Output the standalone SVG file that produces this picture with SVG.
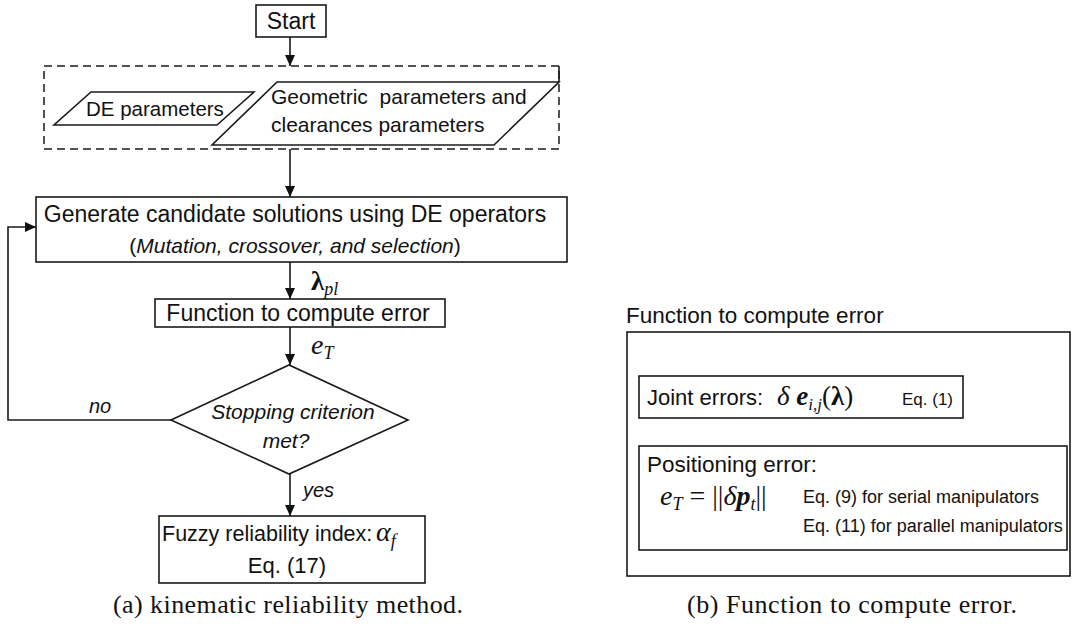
<svg xmlns="http://www.w3.org/2000/svg" width="1072" height="632" viewBox="0 0 1072 632">
<defs>
<marker id="ah" viewBox="0 0 11 10" refX="11" refY="5" markerWidth="11" markerHeight="10" markerUnits="userSpaceOnUse" orient="auto"><path d="M0,0 L11,5 L0,10 z" fill="#111"/></marker>
<style>
.box{fill:#fff;stroke:#1a1a1a;stroke-width:1.6}
.ln{fill:none;stroke:#1a1a1a;stroke-width:1.6}
.ar{fill:none;stroke:#1a1a1a;stroke-width:1.6;marker-end:url(#ah)}
.t{font-family:"Liberation Sans",Arial,sans-serif;fill:#111}
.m{font-family:"Liberation Serif","DejaVu Serif",serif;fill:#111}
.cap{font-family:"Liberation Serif","DejaVu Serif",serif;fill:#111;font-size:26px}
.i{font-style:italic}
.b{font-weight:bold}
</style>
</defs>
<rect width="1072" height="632" fill="#fff"/>

<g id="connectors">
<path class="ar" d="M290,37 V66"/>
<path class="ar" d="M290,149 V197"/>
<path class="ar" d="M290,262 V299"/>
<path class="ar" d="M290,327 V365"/>
<path class="ar" d="M290,474 V516"/>
<path class="ar" d="M171,420 H8 V227 H36"/>
<path class="ar" d="M825,332 V376"/>
<path class="ar" d="M825,418 V446"/>
<path class="ar" d="M825,550 V576"/>
<text class="t i" x="89" y="413" font-size="20">no</text>
<text class="t i" x="303" y="497" font-size="20">yes</text>
<text class="m" x="311" y="290" font-size="27"><tspan class="b">λ</tspan><tspan class="i" font-size="18" dy="5">pl</tspan></text>
<text class="m i" x="311" y="354" font-size="28">e<tspan font-size="18" dy="5">T</tspan></text>
</g>

<g id="start">
<rect class="box" x="256" y="5" width="70" height="32"/>
<text class="t" x="291" y="29" font-size="23" text-anchor="middle">Start</text>
</g>

<g id="inputs">
<rect x="44" y="66" width="515" height="83" fill="none" stroke="#1a1a1a" stroke-width="1.5" stroke-dasharray="8 5"/>
<path class="ln" d="M559,66 V82"/>
<g id="de-params">
<polygon class="box" points="91,92 254,92 217,125 54,125"/>
<text class="t" x="86" y="116" font-size="20.5">DE parameters</text>
</g>
<g id="geo-params">
<polygon class="box" points="277,82 559,82 494,145 212,145"/>
<text class="t" x="271" y="104" font-size="21" xml:space="preserve">Geometric  parameters and</text>
<text class="t" x="271" y="132" font-size="21">clearances parameters</text>
</g>
</g>

<g id="generate">
<rect class="box" x="36" y="197" width="531" height="65"/>
<text class="t" x="295" y="222" font-size="23" text-anchor="middle">Generate candidate solutions using DE operators</text>
<text class="t" x="295" y="253" font-size="21" text-anchor="middle">(<tspan class="i">Mutation, crossover, and selection</tspan>)</text>
</g>

<g id="function">
<rect class="box" x="155" y="299" width="290" height="28"/>
<text class="t" x="298" y="321" font-size="23" text-anchor="middle">Function to compute error</text>
</g>

<g id="decision">
<polygon class="box" points="171,420 289,365 408,420 289,474"/>
<text class="t i" x="293" y="419" font-size="21" text-anchor="middle">Stopping criterion</text>
<text class="t i" x="286" y="448" font-size="21" text-anchor="middle">met?</text>
</g>

<g id="fuzzy">
<rect class="box" x="159" y="516" width="266" height="67"/>
<text class="t" x="162" y="541" font-size="21.5">Fuzzy reliability index:</text>
<text class="m i" x="376" y="541" font-size="28">α<tspan font-size="18" dy="6">f</tspan></text>
<text class="t" x="287" y="573" font-size="22" text-anchor="middle">Eq. (17)</text>
</g>

<text class="cap" x="288" y="613" text-anchor="middle" textLength="350" lengthAdjust="spacing">(a) kinematic reliability method.</text>

<g id="compute-error-panel">
<text class="t" x="626" y="323" font-size="22.5">Function to compute error</text>
<rect class="box" x="627" y="332" width="443" height="244" fill="none"/>
</g>

<g id="joint-errors">
<rect class="box" x="639" y="376" width="324" height="42"/>
<text class="t" x="647" y="405" font-size="22">Joint errors:</text>
<text class="m" x="777" y="405" font-size="27" xml:space="preserve"><tspan class="i">δ</tspan> <tspan class="b i">e</tspan><tspan class="i" font-size="17" dy="5">i,j</tspan><tspan dy="-5">(</tspan><tspan class="b">λ</tspan>)</text>
<text class="t" x="902" y="405" font-size="17">Eq. (1)</text>
</g>

<g id="positioning-error">
<rect class="box" x="639" y="446" width="428" height="104"/>
<text class="t" x="647" y="472" font-size="22.5">Positioning error:</text>
<text class="m" x="660" y="505" font-size="28" xml:space="preserve"><tspan class="i">e</tspan><tspan class="i" font-size="18" dy="5">T</tspan><tspan dy="-5"> = ||</tspan><tspan class="i">δ</tspan><tspan class="b i">p</tspan><tspan class="i" font-size="18" dy="5">t</tspan><tspan dy="-5">||</tspan></text>
<text class="t" x="803" y="503" font-size="18">Eq. (9) for serial manipulators</text>
<text class="t" x="803" y="532" font-size="18">Eq. (11) for parallel manipulators</text>
</g>

<text class="cap" x="852" y="613" text-anchor="middle" textLength="330" lengthAdjust="spacing">(b) Function to compute error.</text>
</svg>
